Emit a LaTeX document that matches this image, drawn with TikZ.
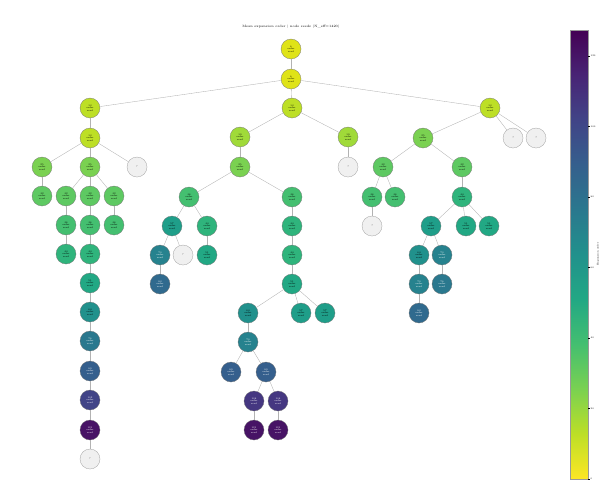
\documentclass[tikz,border=0pt]{standalone}
\usepackage{tikz}

% viridis, read from yellow (0) to purple (max)
\definecolor{v00}{HTML}{FDE725}
\definecolor{v05}{HTML}{DFE318}
\definecolor{v10}{HTML}{BDDF26}
\definecolor{v15}{HTML}{A0DA39}
\definecolor{v20}{HTML}{7AD151}
\definecolor{v25}{HTML}{5EC962}
\definecolor{v30}{HTML}{44BF70}
\definecolor{v35}{HTML}{2FB47C}
\definecolor{v40}{HTML}{22A884}
\definecolor{v45}{HTML}{1F9E89}
\definecolor{v50}{HTML}{21918C}
\definecolor{v55}{HTML}{26828E}
\definecolor{v60}{HTML}{2A788E}
\definecolor{v65}{HTML}{306A8E}
\definecolor{v70}{HTML}{355F8D}
\definecolor{v75}{HTML}{3B528B}
\definecolor{v80}{HTML}{414487}
\definecolor{v85}{HTML}{453781}
\definecolor{v90}{HTML}{482475}
\definecolor{v95}{HTML}{471365}
\definecolor{v100}{HTML}{440154}
\definecolor{unseen}{HTML}{F0F0F0}

% the path is mapped onto 25bp..75bp of the shading
\pgfdeclareverticalshading{viridisbar}{100bp}{color(0bp)=(v00); color(25bp)=(v00);
  color(30bp)=(v10); color(35bp)=(v20); color(40bp)=(v30); color(45bp)=(v40);
  color(50bp)=(v50); color(55bp)=(v60); color(60bp)=(v70); color(65bp)=(v80);
  color(70bp)=(v90); color(75bp)=(v100); color(100bp)=(v100)}

\newcommand{\ord}[1]{#1\\order\\seed}

\begin{document}
\begin{tikzpicture}[x=0.03cm,y=-0.03cm,
  tnode/.style={circle, draw=black!55, line width=0.25pt, minimum size=0.6cm,
    inner sep=0pt, align=center, font=\fontsize{2}{2.3}\selectfont, fill=#1},
  dnode/.style={tnode=#1, text=white},
  gnode/.style={tnode=unseen, draw=black!40},
  edge/.style={draw=black!30, line width=0.3pt}]
\useasboundingbox (0,0) rectangle (601,500);

\node[font=\fontsize{2.8}{3.2}\selectfont] (title) at (291,27) {Mean expansion order | node seeds (N\_eff=1420)};

% top of the tree
\node[tnode=v05] (tid0) at (291,49){\ord{6}};
\node[tnode=v05] (tid1) at (291,79){\ord{6}};
\draw[edge](tid0) -- (tid1);
\node[tnode=v10] (tid2) at (90,108){\ord{13}};
\node[tnode=v10] (tid3) at (292,108){\ord{13}};
\node[tnode=v10] (tid4) at (490,108){\ord{13}};
\draw[edge](tid1) -- (tid2);
\draw[edge](tid1) -- (tid3);
\draw[edge](tid1) -- (tid4);

% left branch
\node[tnode=v10] (tid5) at (90,138){\ord{13}};
\draw[edge](tid2) -- (tid5);
\node[tnode=v20] (tid6) at (42,167){\ord{25}};
\node[tnode=v20] (tid7) at (90,167){\ord{25}};
\node[gnode] (tid8) at (137,167){?};
\draw[edge](tid5) -- (tid6);
\draw[edge](tid5) -- (tid7);
\draw[edge](tid5) -- (tid8);
\node[tnode=v25] (tid9) at (42,196){\ord{32}};
\draw[edge](tid6) -- (tid9);
\node[tnode=v25] (tid10) at (66,196){\ord{32}};
\node[tnode=v25] (tid11) at (90,196){\ord{32}};
\node[tnode=v25] (tid12) at (114,196){\ord{32}};
\draw[edge](tid7) -- (tid10);
\draw[edge](tid7) -- (tid11);
\draw[edge](tid7) -- (tid12);
\node[tnode=v30] (tid13) at (66,225){\ord{38}};
\node[tnode=v35] (tid14) at (66,254){\ord{44}};
\draw[edge](tid10) -- (tid13);
\draw[edge](tid13) -- (tid14);
\node[tnode=v30] (tid15) at (90,225){\ord{38}};
\node[tnode=v35] (tid16) at (90,254){\ord{44}};
\node[tnode=v40] (tid17) at (90,283){\ord{51}};
\node[tnode=v50] (tid18) at (90,312){\ord{64}};
\node[dnode=v60] (tid19) at (90,341){\ord{76}};
\node[dnode=v70] (tid20) at (90,371){\ord{89}};
\node[dnode=v80] (tid21) at (90,400){\ord{102}};
\node[dnode=v95] (tid22) at (90,430){\ord{121}};
\node[gnode] (tid23) at (90,459){?};
\draw[edge](tid11) -- (tid15);
\draw[edge](tid15) -- (tid16);
\draw[edge](tid16) -- (tid17);
\draw[edge](tid17) -- (tid18);
\draw[edge](tid18) -- (tid19);
\draw[edge](tid19) -- (tid20);
\draw[edge](tid20) -- (tid21);
\draw[edge](tid21) -- (tid22);
\draw[edge](tid22) -- (tid23);
\node[tnode=v30] (tid24) at (114,225){\ord{38}};
\draw[edge](tid12) -- (tid24);

% middle branch
\node[tnode=v15] (tid25) at (240,137){\ord{19}};
\node[tnode=v15] (tid26) at (348,137){\ord{19}};
\draw[edge](tid3) -- (tid25);
\draw[edge](tid3) -- (tid26);
\node[tnode=v20] (tid27) at (240,167){\ord{25}};
\node[gnode] (tid28) at (348,167){?};
\draw[edge](tid25) -- (tid27);
\draw[edge](tid26) -- (tid28);
\node[tnode=v30] (tid29) at (189,197){\ord{38}};
\node[tnode=v30] (tid30) at (292,197){\ord{38}};
\draw[edge](tid27) -- (tid29);
\draw[edge](tid27) -- (tid30);
\node[tnode=v45] (tid31) at (172,226){\ord{57}};
\node[tnode=v35] (tid32) at (207,226){\ord{44}};
\draw[edge](tid29) -- (tid31);
\draw[edge](tid29) -- (tid32);
\node[dnode=v55] (tid33) at (160,255){\ord{70}};
\node[gnode] (tid34) at (183,255){?};
\node[dnode=v65] (tid35) at (160,284){\ord{83}};
\draw[edge](tid31) -- (tid33);
\draw[edge](tid31) -- (tid34);
\draw[edge](tid33) -- (tid35);
\node[tnode=v40] (tid36) at (207,255){\ord{51}};
\draw[edge](tid32) -- (tid36);
\node[tnode=v35] (tid37) at (292,226){\ord{44}};
\node[tnode=v35] (tid38) at (292,255){\ord{44}};
\node[tnode=v40] (tid39) at (292,284){\ord{51}};
\draw[edge](tid30) -- (tid37);
\draw[edge](tid37) -- (tid38);
\draw[edge](tid38) -- (tid39);
\node[tnode=v50] (tid40) at (248,313){\ord{64}};
\node[tnode=v45] (tid41) at (301,313){\ord{57}};
\node[tnode=v45] (tid42) at (325,313){\ord{57}};
\draw[edge](tid39) -- (tid40);
\draw[edge](tid39) -- (tid41);
\draw[edge](tid39) -- (tid42);
\node[dnode=v55] (tid43) at (248,342){\ord{70}};
\draw[edge](tid40) -- (tid43);
\node[dnode=v70] (tid44) at (231,372){\ord{89}};
\node[dnode=v70] (tid45) at (266,372){\ord{89}};
\draw[edge](tid43) -- (tid44);
\draw[edge](tid43) -- (tid45);
\node[dnode=v85] (tid46) at (254,401){\ord{108}};
\node[dnode=v85] (tid47) at (278,401){\ord{108}};
\draw[edge](tid45) -- (tid46);
\draw[edge](tid45) -- (tid47);
\node[dnode=v95] (tid48) at (254,430){\ord{121}};
\node[dnode=v95] (tid49) at (278,430){\ord{121}};
\draw[edge](tid46) -- (tid48);
\draw[edge](tid47) -- (tid49);

% right branch
\node[tnode=v20] (tid50) at (423,138){\ord{25}};
\node[gnode] (tid51) at (513,138){?};
\node[gnode] (tid52) at (536,138){?};
\draw[edge](tid4) -- (tid50);
\draw[edge](tid4) -- (tid51);
\draw[edge](tid4) -- (tid52);
\node[tnode=v25] (tid53) at (383,167){\ord{32}};
\node[tnode=v25] (tid54) at (462,167){\ord{32}};
\draw[edge](tid50) -- (tid53);
\draw[edge](tid50) -- (tid54);
\node[tnode=v30] (tid55) at (372,197){\ord{38}};
\node[tnode=v30] (tid56) at (395,197){\ord{38}};
\node[gnode] (tid57) at (372,226){?};
\draw[edge](tid53) -- (tid55);
\draw[edge](tid53) -- (tid56);
\draw[edge](tid55) -- (tid57);
\node[tnode=v35] (tid58) at (462,197){\ord{44}};
\draw[edge](tid54) -- (tid58);
\node[tnode=v45] (tid59) at (431,226){\ord{57}};
\node[tnode=v40] (tid60) at (466,226){\ord{51}};
\node[tnode=v40] (tid61) at (489,226){\ord{51}};
\draw[edge](tid58) -- (tid59);
\draw[edge](tid58) -- (tid60);
\draw[edge](tid58) -- (tid61);
\node[tnode=v50] (tid62) at (419,255){\ord{64}};
\node[dnode=v55] (tid63) at (442,255){\ord{70}};
\draw[edge](tid59) -- (tid62);
\draw[edge](tid59) -- (tid63);
\node[dnode=v55] (tid64) at (419,284){\ord{70}};
\node[dnode=v65] (tid65) at (419,313){\ord{83}};
\node[dnode=v60] (tid66) at (442,284){\ord{76}};
\draw[edge](tid62) -- (tid64);
\draw[edge](tid64) -- (tid65);
\draw[edge](tid63) -- (tid66);

% colour bar
\shade[shading=viridisbar, draw=black!40, line width=0.2pt] (570,30) rectangle (588,479);
\foreach \t in {0,20,...,120}{
  \draw[line width=0.2pt] (588,479-3.525*\t) -- (590,479-3.525*\t)
    node[right, inner sep=0.5pt, font=\fontsize{2}{2.4}\selectfont] {\t};
}
\node[rotate=90, font=\fontsize{2}{2.4}\selectfont] (barlabel) at (598,254) {Expansion order};
\end{tikzpicture}
\end{document}
